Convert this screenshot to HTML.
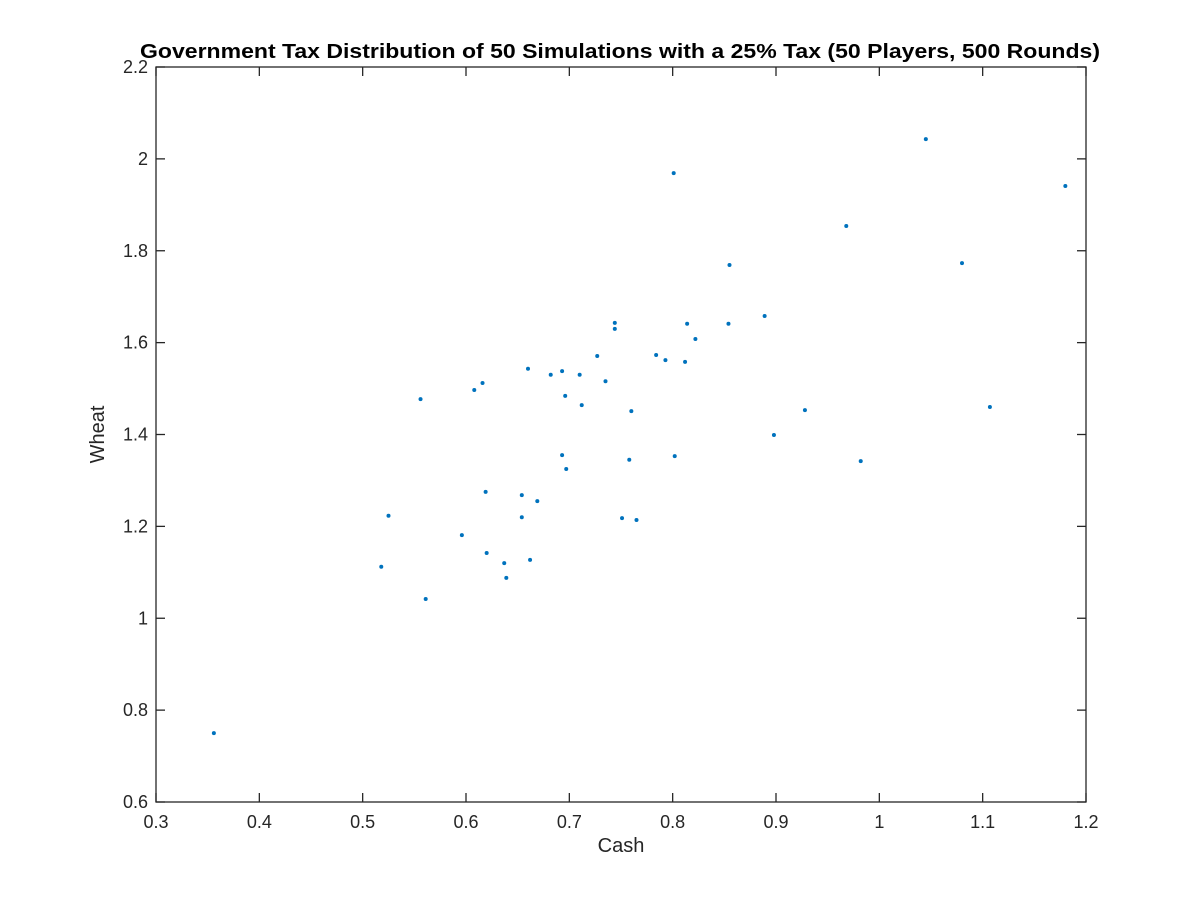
<!DOCTYPE html>
<html><head><meta charset="utf-8"><style>
html,body{margin:0;padding:0;background:#fff;}
svg{display:block;font-family:"Liberation Sans",Arial,sans-serif;}
</style></head><body>
<svg id="chart" width="1200" height="900"></svg>
<script>
const cash=[0.356,0.518,0.525,0.561,0.556,0.596,0.608,0.616,0.619,0.620,0.637,0.639,0.654,0.654,0.660,0.662,0.669,0.682,0.693,0.693,0.696,0.697,0.710,0.712,0.727,0.735,0.744,0.744,0.751,0.758,0.760,0.765,0.784,0.793,0.801,0.802,0.812,0.814,0.822,0.854,0.855,0.889,0.898,0.928,0.968,0.982,1.045,1.080,1.107,1.180];
const wheat=[0.750,1.112,1.223,1.042,1.477,1.181,1.497,1.512,1.275,1.142,1.120,1.088,1.268,1.220,1.543,1.127,1.255,1.530,1.538,1.355,1.484,1.325,1.530,1.464,1.571,1.516,1.643,1.630,1.218,1.345,1.451,1.214,1.573,1.562,1.969,1.353,1.558,1.641,1.608,1.641,1.769,1.658,1.399,1.453,1.854,1.342,2.043,1.773,1.460,1.941];
const xTicks=["0.3","0.4","0.5","0.6","0.7","0.8","0.9","1","1.1","1.2"];
const yTicks=["0.6","0.8","1","1.2","1.4","1.6","1.8","2","2.2"];

const NS="http://www.w3.org/2000/svg";
const svg=document.getElementById('chart');
const L=156,R=1086,T=67,B=802,x0=0.3,x1=1.2,y0=0.6,y1=2.2;
const sx=v=>L+(v-x0)/(x1-x0)*(R-L);
const sy=v=>B-(v-y0)/(y1-y0)*(B-T);
function mk(tag,attrs,parent){const e=document.createElementNS(NS,tag);for(const k in attrs)e.setAttribute(k,attrs[k]);(parent||svg).appendChild(e);return e;}

const frame=mk('rect',{x:L,y:T,width:R-L,height:B-T,fill:'none',stroke:'#262626','stroke-width':1.3});



xTicks.forEach(t=>{const v=parseFloat(t),x=sx(v);
 mk('line',{x1:x,y1:B,x2:x,y2:B-9,stroke:'#262626','stroke-width':1.3});
 mk('line',{x1:x,y1:T,x2:x,y2:T+9,stroke:'#262626','stroke-width':1.3});
 const tx=mk('text',{x:x,y:B+26,'text-anchor':'middle','font-size':18,fill:'#262626'});
 tx.textContent=t;
 
 
});
yTicks.forEach(t=>{const v=parseFloat(t),y=sy(v);
 mk('line',{x1:L,y1:y,x2:L+9,y2:y,stroke:'#262626','stroke-width':1.3});
 mk('line',{x1:R,y1:y,x2:R-9,y2:y,stroke:'#262626','stroke-width':1.3});
 const tx=mk('text',{x:L-8,y:y+6,'text-anchor':'end','font-size':18,fill:'#262626'});
 tx.textContent=t;
 
 
});

cash.forEach((c,i)=>{
 const p=mk('circle',{cx:sx(c),cy:sy(wheat[i]),r:2,fill:'#0072bd'});
 
 
});

const title=mk('text',{x:140,y:58,'font-size':20,'font-weight':'bold',fill:'#000',textLength:960,lengthAdjust:'spacingAndGlyphs'});
title.textContent='Government Tax Distribution of 50 Simulations with a 25% Tax (50 Players, 500 Rounds)';



const xl=mk('text',{x:(L+R)/2,y:852,'text-anchor':'middle','font-size':20,fill:'#262626'});
xl.textContent='Cash';



const yl=mk('text',{x:0,y:0,'text-anchor':'middle','font-size':20,fill:'#262626',transform:'translate(104,'+((T+B)/2)+') rotate(-90)'});
yl.textContent='Wheat';


</script>
</body></html>
